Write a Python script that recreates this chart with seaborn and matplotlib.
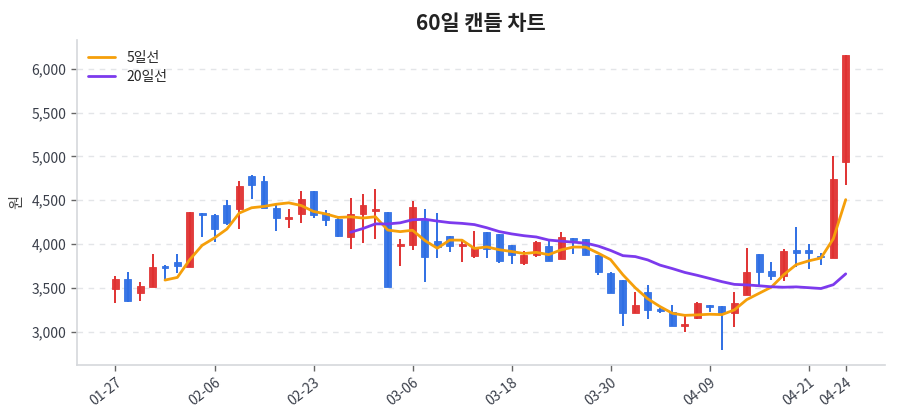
import numpy as np
import pandas as pd
import matplotlib
matplotlib.use("Agg")
import matplotlib.pyplot as plt
from matplotlib.ticker import StrMethodFormatter
import seaborn as sns

# ---------------------------
# Data
# ---------------------------
dates = ["01-27", "01-28", "01-29", "01-30", "01-31", "02-01", "02-03", "02-04", "02-06",
         "02-07", "02-08", "02-10", "02-13", "02-14", "02-16", "02-20", "02-23",
         "02-24", "02-25", "02-26", "02-27", "03-02", "03-03", "03-04", "03-06",
         "03-07", "03-08", "03-09", "03-11", "03-13", "03-14", "03-16", "03-18",
         "03-19", "03-21", "03-22", "03-24", "03-25", "03-27", "03-28", "03-30",
         "03-31", "04-01", "04-02", "04-03", "04-05", "04-06", "04-08", "04-09",
         "04-10", "04-12", "04-13", "04-14", "04-16", "04-17", "04-19", "04-21",
         "04-22", "04-23", "04-24"]

opens = [3485, 3598, 3447, 3515, 3754, 3799, 3735, 4356, 4337, 4443,
         4398, 4773, 4720, 4417, 4284, 4348, 4610, 4356, 4284, 4083,
         4341, 4379, 4367, 3981, 3989, 4277, 4038, 4095, 3981, 3867,
         4140, 4114, 3989, 3784, 3879, 3973, 3830, 4064, 4057, 3879,
         3670, 3591, 3208, 3455, 3261, 3227, 3064, 3155, 3300, 3292,
         3216, 3413, 3884, 3690, 3641, 3937, 3937, 3869, 3842, 4931]
highs = [3640, 3682, 3572, 3890, 3765, 3883, 4367, 4356, 4348, 4500,
         4720, 4792, 4773, 4443, 4398, 4610, 4610, 4386, 4322, 4530,
         4576, 4633, 4367, 4057, 4492, 4398, 4360, 4095, 4049, 4144,
         4140, 4114, 3989, 3917, 4038, 4038, 4136, 4064, 4057, 3879,
         3678, 3591, 3451, 3530, 3269, 3303, 3201, 3337, 3300, 3292,
         3451, 3959, 3884, 3793, 3944, 4199, 4001, 3895, 5006, 6155]
lows = [3333, 3337, 3352, 3510, 3576, 3667, 3735, 4076, 4019, 4216,
        4167, 4519, 4413, 4148, 4186, 4235, 4299, 4205, 4083, 3943,
        4011, 4057, 3508, 3754, 3932, 3564, 3837, 3905, 3799, 3841,
        3841, 3784, 3777, 3765, 3852, 3811, 3830, 3890, 3871, 3651,
        3443, 3064, 3208, 3148, 3216, 3061, 3000, 3148, 3224, 2788,
        3053, 3413, 3508, 3595, 3582, 3743, 3717, 3759, 3842, 4673]
closes = [3598, 3352, 3523, 3742, 3730, 3750, 4367, 4337, 4167, 4235,
          4663, 4670, 4413, 4292, 4314, 4511, 4330, 4273, 4091, 4348,
          4443, 4402, 3515, 4000, 4428, 3856, 3962, 3981, 3996, 3955,
          3943, 3803, 3879, 3879, 4023, 3811, 4076, 4042, 3871, 3682,
          3443, 3208, 3299, 3246, 3235, 3061, 3091, 3326, 3281, 3216,
          3326, 3679, 3686, 3641, 3922, 3895, 3895, 3850, 4741, 6155]

RED = "#e03131"
BLUE = "#2f6fe4"
ORANGE = "#f59f0a"
PURPLE = "#7c3aed"

df = pd.DataFrame({"date": dates, "open": opens, "high": highs, "low": lows, "close": closes})
df["x"] = np.arange(len(df))
df["ma5"] = df["close"].rolling(5).mean()
df["ma20"] = df["close"].rolling(20).mean()

# ---------------------------
# Plot
# ---------------------------
sns.set_theme(style="white")
plt.rcParams["font.family"] = ["Noto Sans CJK KR", "DejaVu Sans"]

fig, ax = plt.subplots(figsize=(9, 4.2), dpi=100)
fig.subplots_adjust(left=0.085, right=0.983, top=0.905, bottom=0.131)

up = df["close"] >= df["open"]
cols = np.where(up, RED, BLUE)
body_lo = df[["open", "close"]].min(axis=1)
body_h = (df["close"] - df["open"]).abs().clip(lower=10)

ax.vlines(df["x"], df["low"], df["high"], colors=cols, linewidth=1.4, zorder=2)
ax.bar(df["x"], body_h, bottom=body_lo, width=0.56, color=cols,
       edgecolor=cols, linewidth=0.6, alpha=0.95, zorder=3)

sns.lineplot(data=df, x="x", y="ma5", color=ORANGE, linewidth=2, label="5일선", ax=ax, zorder=4)
sns.lineplot(data=df, x="x", y="ma20", color=PURPLE, linewidth=2, label="20일선", ax=ax, zorder=4)

tick_idx = list(range(0, len(df), 8)) + [len(df) - 1]
ax.set_xticks(tick_idx)
ax.set_xticklabels([dates[i] for i in tick_idx], rotation=38, ha="right", rotation_mode="anchor")
ax.set_xlim(-3.15, len(df) - 1 + 3.15)
ax.set_ylim(2620, 6330)
ax.set_yticks([3000, 3500, 4000, 4500, 5000, 5500, 6000])
ax.yaxis.set_major_formatter(StrMethodFormatter("{x:,.0f}"))

ax.yaxis.grid(True, linestyle=(0, (4, 4)), color="#e3e5e8", linewidth=1)
ax.xaxis.grid(False)
for s in ["top", "right"]:
    ax.spines[s].set_visible(False)
for s in ["left", "bottom"]:
    ax.spines[s].set_color("#d5d8dc")
    ax.spines[s].set_linewidth(1.2)

ax.tick_params(axis="both", bottom=True, left=True, length=4, width=1, color="#666",
               labelsize=10, labelcolor="#3a3f4a")
ax.set_xlabel("")
ax.set_ylabel("원", fontsize=11, color="#444")
ax.set_title("60일 캔들 차트", fontsize=15, fontweight="bold", color="#222", pad=7)
ax.legend(loc="upper left", frameon=False, fontsize=10, handlelength=2.0,
          borderaxespad=0.4, labelspacing=0.35)

plt.savefig("out.png", dpi=100)
